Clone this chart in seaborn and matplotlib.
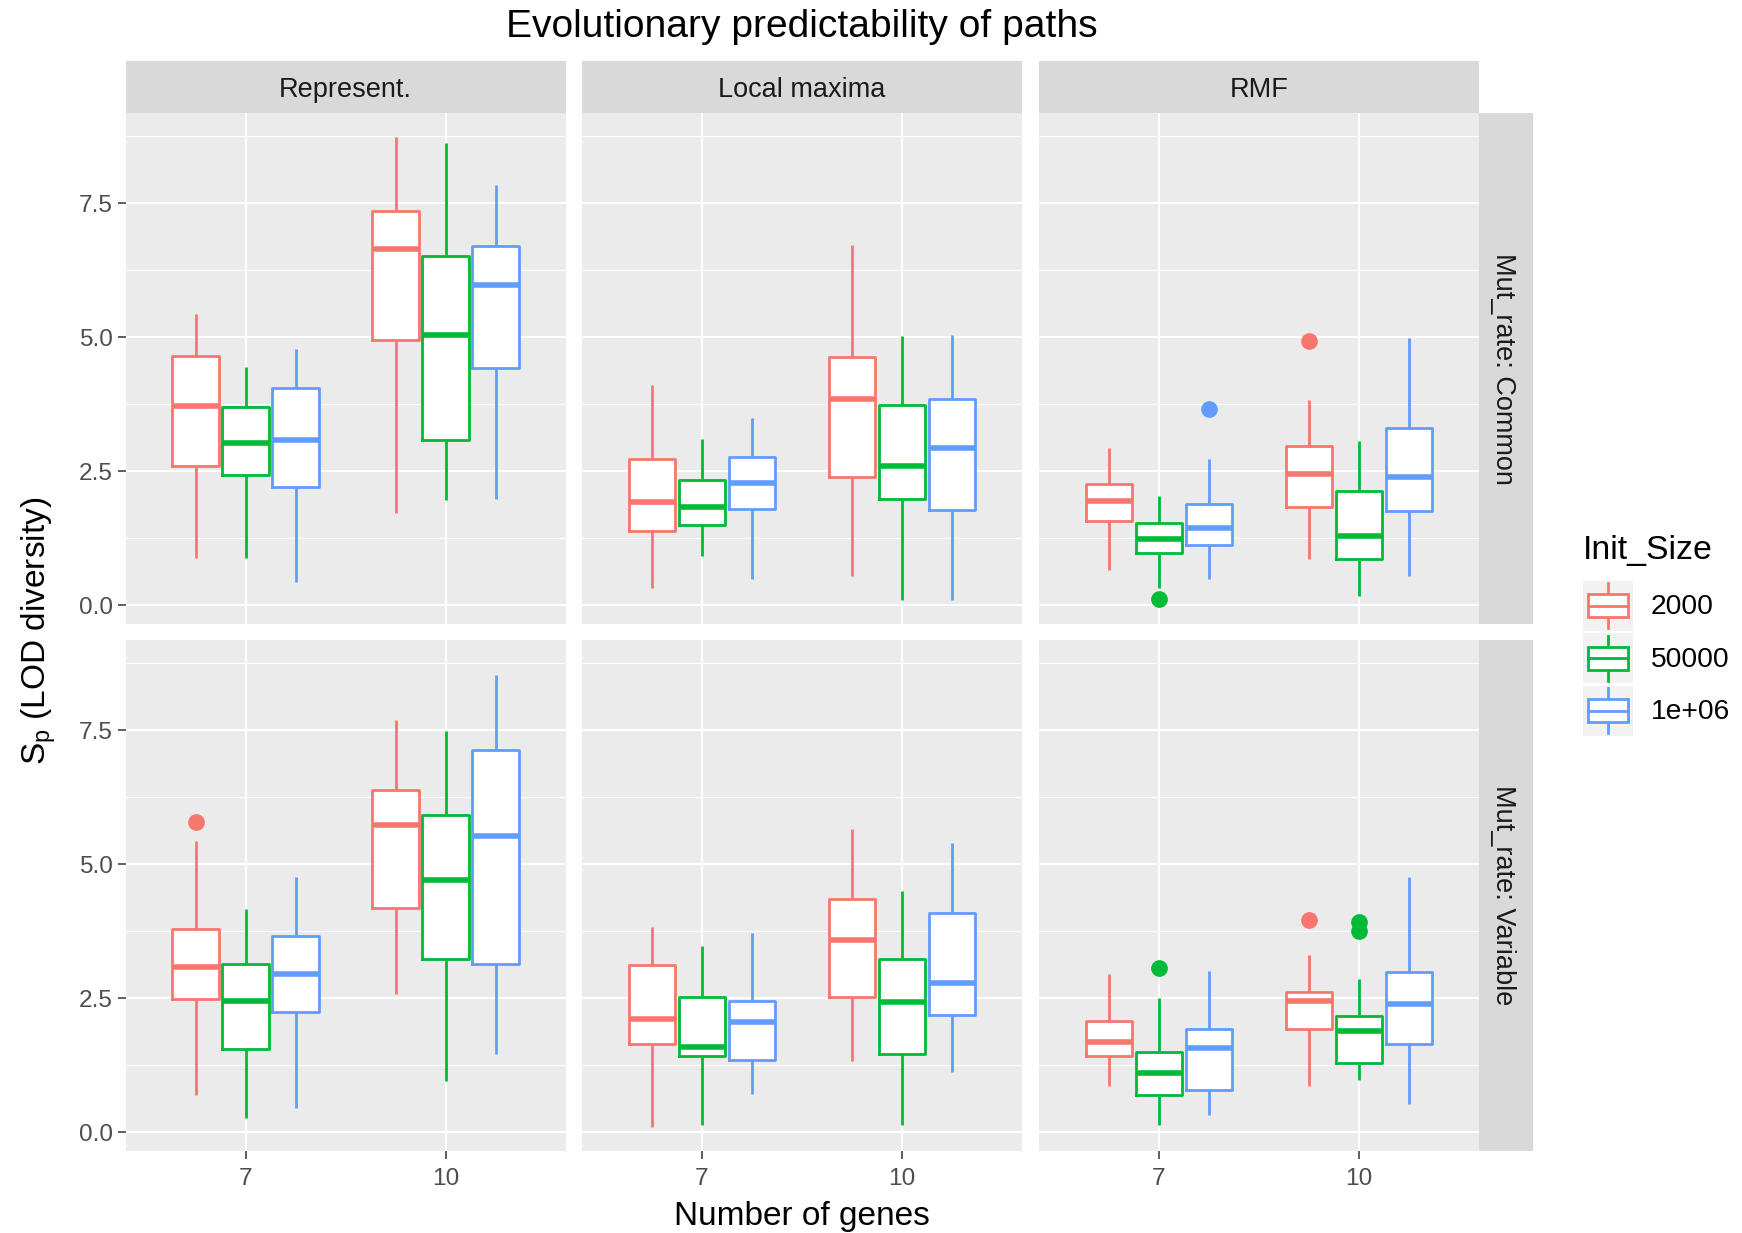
import itertools
import numpy as np
import pandas as pd
import matplotlib
matplotlib.use("Agg")
import matplotlib.pyplot as plt
import seaborn as sns
from matplotlib.patches import Rectangle
from matplotlib.lines import Line2D
from matplotlib.legend_handler import HandlerBase

# ---------------- data ----------------
mut_rates = ["Common", "Variable"]
landscapes = ["Represent.", "Local maxima", "RMF"]
genes = ["7", "10"]
init_sizes = ["2000", "50000", "1e+06"]
colors = ["#F8766D", "#00BA38", "#619CFF"]

# order: mut_rate > landscape > genes > init_size
whisker_low = [
    0.89, 0.88, 0.44, 1.72, 1.97, 1.98,   # Common / Represent.
    0.32, 0.92, 0.49, 0.54, 0.09, 0.10,   # Common / Local maxima
    0.66, 0.32, 0.49, 0.86, 0.17, 0.54,   # Common / RMF
    0.70, 0.27, 0.46, 2.58, 0.95, 1.46,   # Variable / Represent.
    0.09, 0.14, 0.72, 1.33, 0.14, 1.12,   # Variable / Local maxima
    0.86, 0.14, 0.32, 0.86, 0.97, 0.52,   # Variable / RMF
]
q1 = [
    2.59, 2.42, 2.20, 4.95, 3.09, 4.43,
    1.38, 1.50, 1.80, 2.40, 1.99, 1.77,
    1.57, 0.97, 1.13, 1.83, 0.86, 1.75,
    2.48, 1.56, 2.25, 4.18, 3.23, 3.13,
    1.65, 1.42, 1.34, 2.53, 1.45, 2.18,
    1.43, 0.70, 0.78, 1.92, 1.30, 1.65,
]
median = [
    3.72, 3.03, 3.09, 6.65, 5.04, 5.98,
    1.92, 1.83, 2.28, 3.85, 2.60, 2.93,
    1.94, 1.24, 1.44, 2.45, 1.30, 2.40,
    3.08, 2.45, 2.96, 5.73, 4.70, 5.52,
    2.12, 1.59, 2.05, 3.59, 2.43, 2.79,
    1.68, 1.11, 1.57, 2.45, 1.88, 2.39,
]
q3 = [
    4.64, 3.69, 4.05, 7.35, 6.52, 6.70,
    2.72, 2.33, 2.77, 4.63, 3.73, 3.85,
    2.27, 1.54, 1.88, 2.97, 2.13, 3.31,
    3.79, 3.14, 3.66, 6.38, 5.91, 7.13,
    3.11, 2.53, 2.44, 4.35, 3.23, 4.08,
    2.07, 1.50, 1.92, 2.62, 2.16, 2.99,
]
whisker_high = [
    5.44, 4.45, 4.78, 8.74, 8.62, 7.83,
    4.11, 3.10, 3.50, 6.71, 5.03, 5.04,
    2.94, 2.03, 2.73, 3.83, 3.06, 4.98,
    5.44, 4.17, 4.76, 7.69, 7.49, 8.53,
    3.83, 3.47, 3.71, 5.66, 4.50, 5.40,
    2.96, 2.51, 3.01, 3.30, 2.85, 4.76,
]

outlier_mut = ["Common", "Common", "Common", "Variable", "Variable", "Variable", "Variable", "Variable"]
outlier_land = ["RMF", "RMF", "RMF", "Represent.", "RMF", "RMF", "RMF", "RMF"]
outlier_genes = ["7", "7", "10", "7", "7", "10", "10", "10"]
outlier_size = ["50000", "1e+06", "2000", "2000", "50000", "2000", "50000", "50000"]
outlier_value = [0.12, 3.66, 4.92, 5.78, 3.07, 3.95, 3.93, 3.76]
outlier_rank = [0, 0, 0, 0, 0, 0, 0, 1]   # 2nd outlier of the same box

# ---------------- long table ----------------
rows = []
for i, (m, l, g, s) in enumerate(itertools.product(mut_rates, landscapes, genes, init_sizes)):
    for stat in (whisker_low, q1, median, q3, whisker_high):
        rows.append({"mut": m, "land": l, "genes": g, "size": s, "value": stat[i]})
df = pd.DataFrame(rows)
out_df = pd.DataFrame({"mut": outlier_mut, "land": outlier_land, "genes": outlier_genes,
                       "size": outlier_size, "value": outlier_value, "rank": outlier_rank})

# ---------------- style ----------------
plt.rcParams["font.family"] = ["Liberation Sans", "DejaVu Sans"]
plt.rcParams["mathtext.fontset"] = "custom"
plt.rcParams["mathtext.rm"] = "Liberation Sans"
plt.rcParams["mathtext.it"] = "Liberation Sans:italic"

W, H = 1742, 1233
fig = plt.figure(figsize=(W / 100, H / 100), dpi=100)
fig.patch.set_facecolor("white")

col_x0 = [125.5, 582, 1039]
panel_w = 440
row_y0 = [113, 640]
panel_h = 511
strip_top_h = 52
strip_right_w = 54

PANEL_BG = "#EBEBEB"
STRIP_BG = "#D9D9D9"
TICK_COL = "#4D4D4D"
TEXT_COL = "#1A1A1A"
pal = dict(zip(init_sizes, colors))
white_pal = dict(zip(init_sizes, ["white"] * 3))
STRIP_FS = 19.5

for r, m in enumerate(mut_rates):
    for c, l in enumerate(landscapes):
        ax = fig.add_axes([col_x0[c] / W, 1 - (row_y0[r] + panel_h) / H, panel_w / W, panel_h / H])
        ax.set_facecolor(PANEL_BG)
        for sp in ax.spines.values():
            sp.set_visible(False)
        sub = df[(df["mut"] == m) & (df["land"] == l)]
        common = dict(data=sub, x="genes", y="value", hue="size", order=genes,
                      hue_order=init_sizes, whis=np.inf, width=0.75, gap=0.07,
                      legend=False, ax=ax)
        # white box fill
        sns.boxplot(palette=white_pal, fill=True, linewidth=0, linecolor="white",
                    whiskerprops={"linewidth": 0}, capprops={"linewidth": 0},
                    medianprops={"linewidth": 0}, **common)
        # coloured outlines
        sns.boxplot(palette=pal, fill=False, linewidth=2.0,
                    medianprops={"linewidth": 4.0}, capprops={"linewidth": 0},
                    **common)
        # outliers
        osub = out_df[(out_df["mut"] == m) & (out_df["land"] == l)]
        for k in sorted(osub["rank"].unique()):
            ok = osub[osub["rank"] == k]
            sns.pointplot(data=ok, x="genes", y="value", hue="size", order=genes,
                          hue_order=init_sizes, palette=pal, dodge=0.5,
                          linestyle="none", markers="o", markersize=10,
                          errorbar=None, legend=False, ax=ax, zorder=4)

        ax.set_xlim(-0.6, 1.6)
        ax.set_ylim(-0.35, 9.18)
        ax.set_yticks([0, 2.5, 5, 7.5])
        ax.set_yticklabels(["0.0", "2.5", "5.0", "7.5"])
        ax.set_yticks([1.25, 3.75, 6.25, 8.75], minor=True)
        ax.set_axisbelow(True)
        ax.grid(which="major", axis="both", color="white", linewidth=1.45)
        ax.grid(which="minor", axis="y", color="white", linewidth=0.75)
        ax.tick_params(which="minor", length=0)
        ax.tick_params(which="major", length=5.5, width=1.1, color="#333333",
                       labelsize=17.6, labelcolor=TICK_COL, pad=3.5)
        ax.tick_params(axis="x", pad=6.5)
        ax.set_xlabel("")
        ax.set_ylabel("")
        if c != 0:
            ax.tick_params(axis="y", length=0, labelleft=False)
        if r != len(mut_rates) - 1:
            ax.tick_params(axis="x", length=0, labelbottom=False)

        # strips
        if r == 0:
            hfrac = strip_top_h / panel_h
            ax.add_patch(Rectangle((0, 1), 1, hfrac, transform=ax.transAxes,
                                   facecolor=STRIP_BG, edgecolor="none", clip_on=False))
            ax.text(0.5, 1 + (strip_top_h / 2 - 3) / panel_h, l, transform=ax.transAxes,
                    ha="center", va="center", fontsize=STRIP_FS, color=TEXT_COL)
        if c == len(landscapes) - 1:
            wfrac = strip_right_w / panel_w
            ax.add_patch(Rectangle((1, 0), wfrac, 1, transform=ax.transAxes,
                                   facecolor=STRIP_BG, edgecolor="none", clip_on=False))
            ax.text(1 + (strip_right_w / 2 - 3) / panel_w, 0.5, f"Mut_rate: {m}",
                    transform=ax.transAxes, ha="center", va="center", rotation=-90,
                    fontsize=STRIP_FS, color=TEXT_COL)

# titles
fig.text(802 / W, 1 - 27 / H, "Evolutionary predictability of paths",
         ha="center", va="center", fontsize=28.1, color="black")
fig.text(802 / W, 1 - 1216 / H, "Number of genes", ha="center", va="center",
         fontsize=24, color="black")
fig.text(39 / W, 1 - 631 / H, r"S$_{\mathrm{p}}$ (LOD diversity)", ha="center",
         va="center", rotation=90, fontsize=24, color="black")


# legend with boxplot glyphs
class BoxHandler(HandlerBase):
    def create_artists(self, legend, orig_handle, xdescent, ydescent, width, height,
                       fontsize, trans):
        col = orig_handle.get_edgecolor()
        x0, y0 = -xdescent, -ydescent
        bg = Rectangle((x0, y0), width, height, facecolor="#F2F2F2", edgecolor="none",
                       transform=trans)
        box = Rectangle((x0 + 0.1 * width, y0 + 0.27 * height), 0.8 * width, 0.46 * height,
                        facecolor="white", edgecolor=col, linewidth=2.0, transform=trans)
        med = Line2D([x0 + 0.1 * width, x0 + 0.9 * width], [y0 + 0.5 * height] * 2,
                     color=col, linewidth=2.0, transform=trans)
        wl = Line2D([x0 + 0.5 * width] * 2, [y0 + 0.05 * height, y0 + 0.27 * height],
                    color=col, linewidth=2.0, transform=trans)
        wh = Line2D([x0 + 0.5 * width] * 2, [y0 + 0.73 * height, y0 + 0.95 * height],
                    color=col, linewidth=2.0, transform=trans)
        return [bg, wl, wh, box, med]


LEG_FS = 20.3
handles = [Rectangle((0, 0), 1, 1, facecolor="white", edgecolor=col) for col in colors]
leg = fig.legend(handles, init_sizes, handler_map={h: BoxHandler() for h in handles},
                 loc="upper left", bbox_to_anchor=(1569 / W, 1 - 521 / H),
                 frameon=False, title="Init_Size", title_fontsize=24.4, fontsize=LEG_FS,
                 handlelength=1.77, handleheight=2.35, labelspacing=0.09,
                 handletextpad=0.64, borderpad=0.5, borderaxespad=0, alignment="left")
# extra space between the legend title and the keys (in points)
leg._legend_box.sep = 10.4

fig.savefig("out.png", dpi=100)
